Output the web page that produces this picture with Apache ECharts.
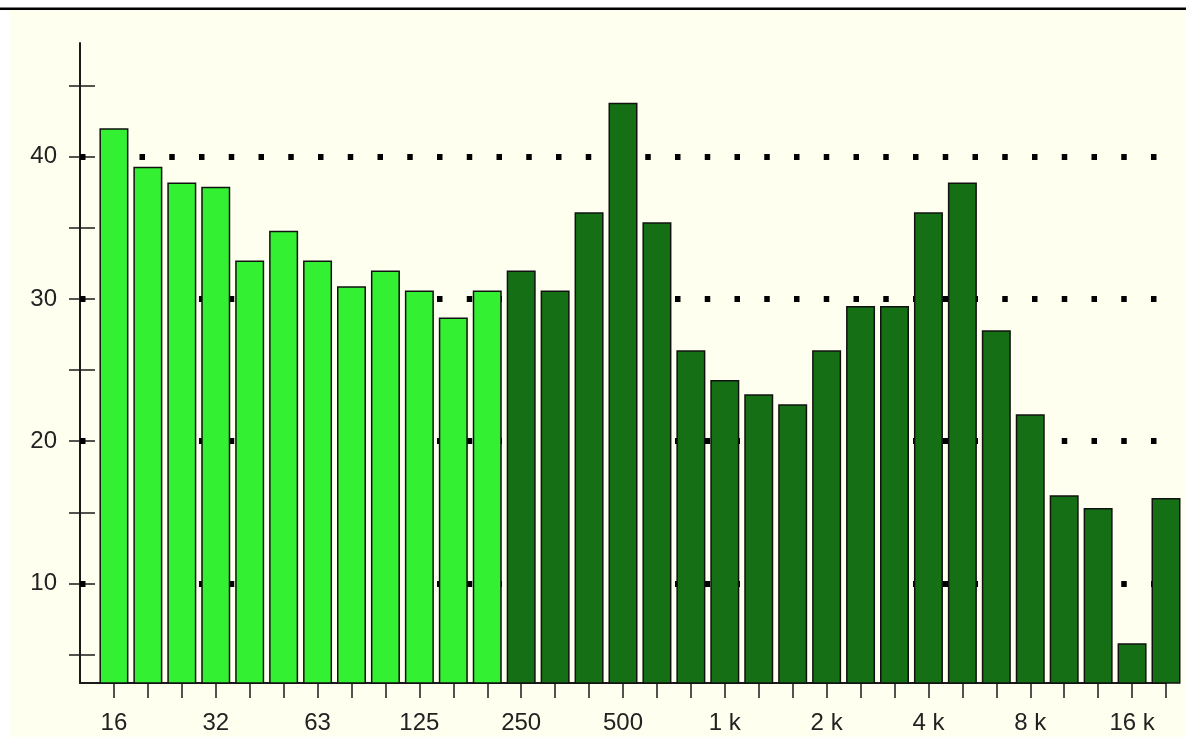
<!DOCTYPE html>
<html>
<head>
<meta charset="utf-8">
<script src="https://cdn.jsdelivr.net/npm/echarts@6/dist/echarts.min.js"></script>
<style>
html,body{margin:0;padding:0;background:#fff;}
#chart{width:1186px;height:740px;}
</style>
</head>
<body>
<div id="chart"></div>
<script>
// Third-octave band centre frequencies (Hz)
const bands = ['16','20','25','31.5','40','50','63','80','100','125','160','200',
  '250','315','400','500','630','800','1 k','1.25 k','1.6 k','2 k','2.5 k','3.15 k',
  '4 k','5 k','6.3 k','8 k','10 k','12.5 k','16 k','20 k'];
// Level per band
const levels = [42.0, 39.3, 38.2, 37.9, 32.7, 34.8, 32.7, 30.9, 32.0, 30.6, 28.7, 30.6,
  32.0, 30.6, 36.1, 43.8, 35.4, 26.4, 24.3, 23.3, 22.6, 26.4, 29.5, 29.5,
  36.1, 38.2, 27.8, 21.9, 16.2, 15.3, 5.8, 16.0];
// Octave tick labels (one every 3 bands)
const tickLabels = ['16','32','63','125','250','500','1 k','2 k','4 k','8 k','16 k'];
const bandsPerOctave = 3;
// Y axis
const yMin = 3, yMax = 48;
const yMinorTicks = [5,10,15,20,25,30,35,40,45];
const yLabels = [10,20,30,40];
const gridValues = [10,20,30,40];
// First high-frequency band (dark bars start here)
const splitBand = '250';

const splitIndex = bands.indexOf(splitBand);
const lightGreen = '#33f033';
const darkGreen = '#157015';
const ink = '#1a1a1a';
const font = 'Liberation Sans, Arial, sans-serif';

const chart = echarts.init(document.getElementById('chart'), null, {renderer:'canvas'});
chart.setOption({
  animation: false,
  backgroundColor: '#ffffff',
  graphic: [
    {type:'rect', shape:{x:9, y:10, width:1177, height:727}, style:{fill:'#fffff0'}, z:-10, silent:true},
    {type:'rect', shape:{x:0, y:7.5, width:1186, height:2.5}, style:{fill:'#000'}, z:10, silent:true}
  ],
  grid: {left:80, right:20, top:43, bottom:57, containLabel:false},
  xAxis: {
    type:'value', min:-1, max:bands.length-1, interval:1,
    axisLine:{show:true, onZero:false, lineStyle:{color:ink, width:2}},
    axisTick:{show:true, length:15, inside:false, lineStyle:{color:ink, width:1.5},
      customValues: bands.map((b,i)=>i)},
    axisLabel:{show:true, margin:28, color:'#222', fontFamily:font, fontSize:24,
      customValues: tickLabels.map((t,k)=>k*bandsPerOctave),
      formatter: v => tickLabels[Math.round(v/bandsPerOctave)] || ''},
    splitLine:{show:false}
  },
  yAxis: [
    {
      type:'value', min:yMin, max:yMax, position:'left',
      axisLine:{show:true, onZero:false, lineStyle:{color:ink, width:2}},
      axisTick:{show:true, length:11, inside:false, lineStyle:{color:ink, width:1.5}, customValues:yMinorTicks},
      axisLabel:{show:true, margin:23, color:'#222', fontFamily:font, fontSize:24, customValues:yLabels},
      splitLine:{show:false}
    },
    {
      type:'value', min:yMin, max:yMax, position:'left',
      axisLine:{show:false, onZero:false},
      axisTick:{show:true, length:15, inside:true, lineStyle:{color:ink, width:1.5}, customValues:yMinorTicks},
      axisLabel:{show:false},
      splitLine:{show:false}
    }
  ],
  series: [{
    type:'bar',
    z: 3,
    barWidth: 29,
    clip: true,
    data: levels.map((v,i)=>[i, v]),
    itemStyle: {
      color: p => p.dataIndex < splitIndex ? lightGreen : darkGreen,
      borderColor: '#111',
      borderWidth: 1.5
    },
    markLine: {
      z: 1,
      silent: true,
      symbol: 'none',
      label: {show:false},
      lineStyle: {color:'#000', width:6, type:[5.5, 24.25], cap:'butt'},
      emphasis: {disabled:true},
      data: gridValues.map(v => ({yAxis: v}))
    }
  }]
});
</script>
</body>
</html>
